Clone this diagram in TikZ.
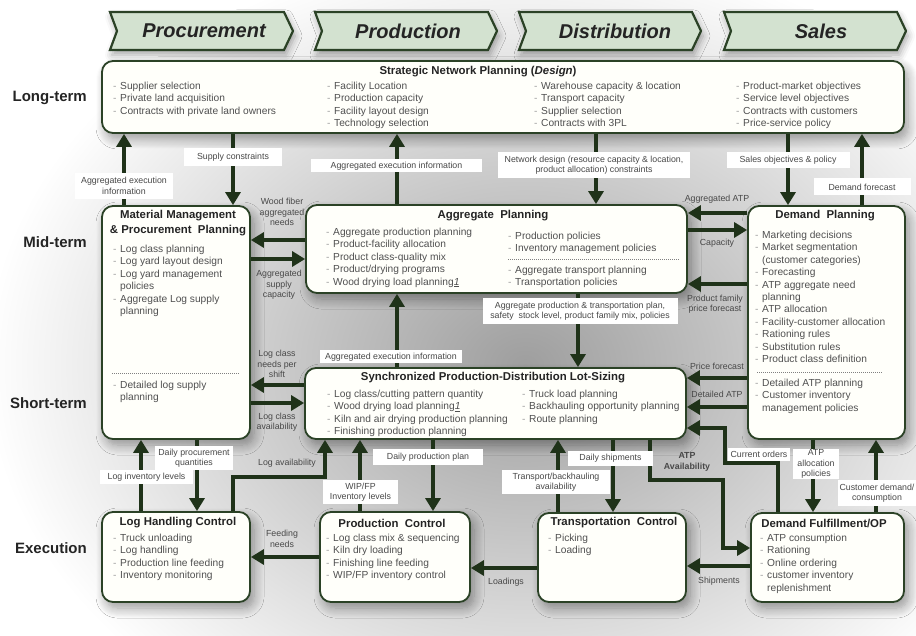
\documentclass[tikz,border=0pt]{standalone}
\usepackage{fontspec}
\setmainfont{Liberation Sans}
\usetikzlibrary{arrows.meta,shadows.blur}
\definecolor{dkgreen}{HTML}{2B4226}
\definecolor{hdrfill}{HTML}{D3E2D0}
\definecolor{boxfill}{HTML}{FFFFFA}
\definecolor{itemgrey}{HTML}{505050}
\definecolor{dashgrey}{HTML}{A0A0A0}
\definecolor{lblgrey}{HTML}{484848}
\definecolor{titlecol}{HTML}{242424}
\definecolor{arrcol}{HTML}{1F3219}
\newcommand{\itm}[1]{\makebox[7pt][l]{\textcolor{dashgrey}{-}}#1}
\newcommand{\cnt}[1]{\hspace*{7pt}#1}
\begin{document}
\begin{tikzpicture}[x=1pt,y=-1pt,
  box/.style={draw=dkgreen, line width=1.8pt, rounded corners=11pt, fill=boxfill,
    blur shadow={shadow xshift=4pt, shadow yshift=-6pt, shadow blur radius=10pt, shadow blur steps=10, shadow opacity=38}},
  hdr/.style={draw=dkgreen, line width=2.2pt, fill=hdrfill,
    blur shadow={shadow xshift=2pt, shadow yshift=-5pt, shadow blur radius=7pt, shadow opacity=35}},
  hdrtxt/.style={font=\fontsize{20}{24}\selectfont\bfseries\itshape, text=titlecol, inner sep=0pt},
  rowlbl/.style={font=\fontsize{15}{18}\selectfont\bfseries, text=titlecol, anchor=east, inner sep=0pt},
  ttl/.style={font=\fontsize{11.4}{14.6}\selectfont\bfseries, text=titlecol, inner sep=0pt, align=center},
  items/.style={font=\fontsize{10.2}{12.4}\selectfont, text=itemgrey, align=left, inner sep=0pt, anchor=north west},
  lbl/.style={fill=white, font=\fontsize{8.8}{10.5}\selectfont, text=lblgrey, inner sep=0pt, align=center},
  plbl/.style={font=\fontsize{8.8}{10.5}\selectfont, text=lblgrey, inner sep=0pt, align=center},
  sep/.style={draw=gray, line width=0.6pt, dash pattern=on 1pt off 1pt},
  conn/.style={draw=arrcol, line width=3.8pt, -{Triangle[width=15pt,length=13pt]}}
]
\useasboundingbox (0,0) rectangle (916,636);
% background
\begin{scope}
\clip (0,0) rectangle (916,636);
\shade[inner color=black!38, outer color=white] (525,365) ellipse (540 and 420);
\end{scope}

% headers
\draw[hdr] (110,12) -- (284,12) -- (293,31) -- (284,50) -- (110,50) -- (117,31) -- cycle;
\node[hdrtxt] (hProc) at (204,31) {Procurement};
\draw[hdr] (315,12) -- (488,12) -- (497,31) -- (488,50) -- (315,50) -- (322,31) -- cycle;
\node[hdrtxt] (hProd) at (408,31) {Production};
\draw[hdr] (519,12) -- (692,12) -- (701,31) -- (692,50) -- (519,50) -- (526,31) -- cycle;
\node[hdrtxt] (hDist) at (615,31) {Distribution};
\draw[hdr] (724,12) -- (897,12) -- (906,31) -- (897,50) -- (724,50) -- (731,31) -- cycle;
\node[hdrtxt] (hSales) at (821,31) {Sales};

% row labels
\node[rowlbl] (rLong) at (87,98) {Long-term};
\node[rowlbl] (rMid) at (87,242) {Mid-term};
\node[rowlbl] (rShort) at (87,403) {Short-term};
\node[rowlbl] (rExec) at (87,548) {Execution};

% boxes
\node[box, minimum width=802pt, minimum height=72pt] (strat) at (503,97) {};
\node[box, minimum width=148pt, minimum height=233pt] (mat) at (176,322.5) {};
\node[box, minimum width=381pt, minimum height=88pt] (agg) at (496.5,249) {};
\node[box, minimum width=157pt, minimum height=233pt] (dem) at (826.5,322.5) {};
\node[box, minimum width=381pt, minimum height=71pt] (sync) at (495.5,403.5) {};
\node[box, minimum width=148pt, minimum height=90pt] (lhc) at (176,557) {};
\node[box, minimum width=150pt, minimum height=90pt] (pc) at (395,557) {};
\node[box, minimum width=148pt, minimum height=89pt] (tc) at (612,557.5) {};
\node[box, minimum width=153pt, minimum height=89pt] (df) at (827.5,557.5) {};

% titles
\node[ttl] (stratT) at (478,72) {Strategic Network Planning (\textit{Design})};
\node[ttl] (matT) at (178,223) {Material Management\\\& Procurement\ \ Planning};
\node[ttl] (aggT) at (493,216) {Aggregate\ \ Planning};
\node[ttl] (demT) at (825,216) {Demand\ \ Planning};
\node[ttl] (syncT) at (493,378) {Synchronized Production-Distribution Lot-Sizing};
\node[ttl] (lhcT) at (178,523) {Log Handling Control};
\node[ttl] (pcT) at (392,523) {Production\ \ Control};
\node[ttl] (tcT) at (614,523) {Transportation\ \ Control};
\node[ttl] (dfT) at (824,523) {Demand Fulfillment/OP};

% items
\node[items] (s1) at (113,82) {\itm{Supplier selection}\\\itm{Private land acquisition}\\\itm{Contracts with private land owners}};
\node[items] (s2) at (327,82) {\itm{Facility Location}\\\itm{Production capacity}\\\itm{Facility layout design}\\\itm{Technology selection}};
\node[items] (s3) at (534,82) {\itm{Warehouse capacity \& location}\\\itm{Transport capacity}\\\itm{Supplier selection}\\\itm{Contracts with 3PL}};
\node[items] (s4) at (736,82) {\itm{Product-market objectives}\\\itm{Service level objectives}\\\itm{Contracts with customers}\\\itm{Price-service policy}};
\node[items] (m1) at (113,245) {\itm{Log class planning}\\\itm{Log yard layout design}\\\itm{Log yard management}\\\cnt{policies}\\\itm{Aggregate Log supply}\\\cnt{planning}};
\draw[sep] (112,373) -- (240,373);
\node[items] (m2) at (113,381) {\itm{Detailed log supply}\\\cnt{planning}};
\node[items] (a1) at (326,228) {\itm{Aggregate production planning}\\\itm{Product-facility allocation}\\\itm{Product class-quality mix}\\\itm{Product/drying programs}\\\itm{Wood drying load planning\underline{\textit{1}}}};
\node[items] (a2) at (508,232) {\itm{Production policies}\\\itm{Inventory management policies}};
\draw[sep] (508,259) -- (680,259);
\node[items] (a3) at (508,266) {\itm{Aggregate transport planning}\\\itm{Transportation policies}};
\node[items] (d1) at (755,231) {\itm{Marketing decisions}\\\itm{Market segmentation}\\\cnt{(customer categories)}\\\itm{Forecasting}\\\itm{ATP aggregate need}\\\cnt{planning}\\\itm{ATP allocation}\\\itm{Facility-customer allocation}\\\itm{Rationing rules}\\\itm{Substitution rules}\\\itm{Product class definition}};
\draw[sep] (757,372) -- (883,372);
\node[items] (d2) at (755,379) {\itm{Detailed ATP planning}\\\itm{Customer inventory}\\\cnt{management policies}};
\node[items] (y1) at (327,390) {\itm{Log class/cutting pattern quantity}\\\itm{Wood drying load planning\underline{\textit{1}}}\\\itm{Kiln and air drying production planning}\\\itm{Finishing production planning}};
\node[items] (y2) at (522,390) {\itm{Truck load planning}\\\itm{Backhauling opportunity planning}\\\itm{Route planning}};
\node[items] (h1) at (113,534) {\itm{Truck unloading}\\\itm{Log handling}\\\itm{Production line feeding}\\\itm{Inventory monitoring}};
\node[items] (p1) at (326,534) {\itm{Log class mix \& sequencing}\\\itm{Kiln dry loading}\\\itm{Finishing line feeding}\\\itm{WIP/FP inventory control}};
\node[items] (t1) at (548,534) {\itm{Picking}\\\itm{Loading}};
\node[items] (f1) at (760,534) {\itm{ATP consumption}\\\itm{Rationing}\\\itm{Online ordering}\\\itm{customer inventory}\\\cnt{replenishment}};

% guide coordinates
\foreach \v in {124,141,197,233,325,360,397,433,558,578,596,613,650,778,788,813,862,876}
  \coordinate (x\v) at (\v,0);
\foreach \v in {213,230,240,259,284,378,385,403,407,428,548,557,566,568}
  \coordinate (y\v) at (0,\v);
\coordinate (e1) at (325,477);
\coordinate (e2) at (725,463);
\coordinate (e3) at (723,480);

% vertical connectors
\draw[conn] (mat.north -| x124) -- (strat.south -| x124);
\draw[conn] (strat.south -| x233) -- (mat.north -| x233);
\draw[conn] (agg.north -| x397) -- (strat.south -| x397);
\draw[conn] (strat.south -| x596) -- (agg.north -| x596);
\draw[conn] (strat.south -| x788) -- (dem.north -| x788);
\draw[conn] (dem.north -| x862) -- (strat.south -| x862);
\draw[conn] (agg.south -| x578) -- (sync.north -| x578);
\draw[conn] (sync.north -| x397) -- (agg.south -| x397);
\draw[conn] (mat.south -| x197) -- (lhc.north -| x197);
\draw[conn] (lhc.north -| x141) -- (mat.south -| x141);
\draw[conn] (sync.south -| x433) -- (pc.north -| x433);
\draw[conn] (pc.north -| x360) -- (sync.south -| x360);
\draw[conn] (tc.north -| x558) -- (sync.south -| x558);
\draw[conn] (sync.south -| x613) -- (tc.north -| x613);
\draw[conn] (dem.south -| x813) -- (df.north -| x813);
\draw[conn] (df.north -| x876) -- (dem.south -| x876);
% horizontal connectors
\draw[conn] (agg.west |- y240) -- (mat.east |- y240);
\draw[conn] (mat.east |- y259) -- (agg.west |- y259);
\draw[conn] (dem.west |- y213) -- (agg.east |- y213);
\draw[conn] (agg.east |- y230) -- (dem.west |- y230);
\draw[conn] (dem.west |- y284) -- (agg.east |- y284);
\draw[conn] (sync.west |- y385) -- (mat.east |- y385);
\draw[conn] (mat.east |- y403) -- (sync.west |- y403);
\draw[conn] (dem.west |- y378) -- (sync.east |- y378);
\draw[conn] (dem.west |- y407) -- (sync.east |- y407);
\draw[conn] (pc.west |- y557) -- (lhc.east |- y557);
\draw[conn] (tc.west |- y568) -- (pc.east |- y568);
\draw[conn] (df.west |- y566) -- (tc.east |- y566);
% elbow connectors
\draw[conn] (lhc.north -| x233) |- (e1) -- (sync.south -| e1);
\draw[conn] (df.north -| x778) |- (e2) |- (sync.east |- y428);
\draw[conn] (sync.south -| x650) |- (e3) |- (df.west |- y548);

% boxed labels
\node[lbl, minimum width=98pt, minimum height=26pt] (l1) at (124,186) {Aggregated execution\\information};
\node[lbl, minimum width=98pt, minimum height=18pt] (l2) at (233,157) {Supply constraints};
\node[lbl, minimum width=171pt, minimum height=13pt] (l3) at (396.5,166) {Aggregated execution information};
\node[lbl, minimum width=192pt, minimum height=26pt] (l4) at (594,165) {Network design (resource capacity \& location,\\product allocation) constraints};
\node[lbl, minimum width=123pt, minimum height=16pt] (l5) at (788,160) {Sales objectives \& policy};
\node[lbl, minimum width=97pt, minimum height=17pt] (l6) at (862,187) {Demand forecast};
\node[lbl, minimum width=195pt, minimum height=26pt] (l7) at (580,311) {Aggregate production \& transportation plan,\\safety\ \ stock level, product family mix, policies};
\node[lbl, minimum width=142pt, minimum height=13pt] (l8) at (391,357) {Aggregated execution information};
\node[lbl, minimum width=78pt, minimum height=24pt] (l9) at (194,458) {Daily procurement\\quantities};
\node[lbl, minimum width=93pt, minimum height=14pt] (l10) at (146.5,477) {Log inventory levels};
\node[lbl, minimum width=110pt, minimum height=16pt] (l11) at (428,457) {Daily production plan};
\node[lbl, minimum width=75pt, minimum height=24pt] (l12) at (360.5,492) {WIP/FP\\Inventory levels};
\node[lbl, minimum width=108pt, minimum height=24pt] (l13) at (556,482) {Transport/backhauling\\availability};
\node[lbl, minimum width=85pt, minimum height=15pt] (l14) at (610.5,458) {Daily shipments};
\node[lbl, minimum width=62pt, minimum height=13pt] (l15) at (759,454) {Current orders};
\node[lbl, minimum width=46pt, minimum height=30pt] (l16) at (816,464) {ATP\\allocation\\policies};
\node[lbl, minimum width=78pt, minimum height=26pt] (l17) at (877,493) {Customer demand/\\consumption};
% plain labels
\node[plbl, font=\fontsize{8.8}{10.5}\selectfont\bfseries] (l18) at (687,462) {ATP\\Availability};
\node[plbl] (l19) at (282,212) {Wood fiber\\aggregated\\needs};
\node[plbl] (l20) at (279,285) {Aggregated\\supply\\capacity};
\node[plbl] (l21) at (717,199) {Aggregated ATP};
\node[plbl] (l22) at (717,243) {Capacity};
\node[plbl] (l23) at (715,304) {Product family\\price forecast};
\node[plbl] (l24) at (277,364) {Log class\\needs per\\shift};
\node[plbl] (l25) at (277,422) {Log class\\availability};
\node[plbl] (l26) at (717,366) {Price forecast};
\node[plbl] (l27) at (717,394) {Detailed ATP};
\node[plbl] (l28) at (287,463) {Log availability};
\node[plbl] (l29) at (282,539) {Feeding\\needs};
\node[plbl] (l30) at (506,582) {Loadings};
\node[plbl] (l31) at (719,581) {Shipments};
\end{tikzpicture}
\end{document}
